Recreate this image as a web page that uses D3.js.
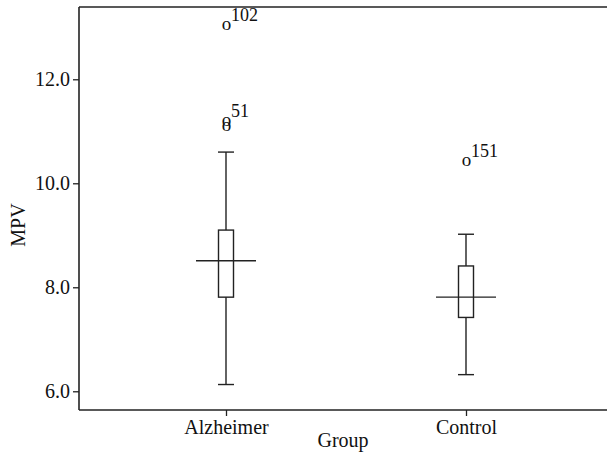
<!DOCTYPE html>
<html>
<head>
<meta charset="utf-8">
<script src="https://cdn.jsdelivr.net/npm/d3@7"></script>
<style>
  body { margin: 0; background: #fff; overflow: hidden; }
  svg { display: block; }
  text { font-family: "Liberation Serif", "Times New Roman", serif; fill: #111; }
</style>
</head>
<body>
<div id="chart"></div>
<script>
// values
var groups = ["Alzheimer", "Control"];
var whiskerLow = [6.13, 6.32];
var q1 = [7.81, 7.42];
var median = [8.51, 7.81];
var q3 = [9.10, 8.41];
var whiskerHigh = [10.60, 9.02];

var outlierGroup = ["Alzheimer", "Alzheimer", "Alzheimer", "Control"];
var outlierValue = [13.04, 11.19, 11.10, 10.42];
var outlierLabel = ["102", "51", "", "151"];

var yTicks = [6, 8, 10, 12];

var width = 607, height = 454;
var margin = {top: 7, left: 79, bottom: 44};
var stroke = "#222";

var svg = d3.select("#chart").append("svg")
  .attr("width", width)
  .attr("height", height);

var y = d3.scaleLinear()
  .domain([5.64, 13.39])
  .range([height - margin.bottom, margin.top]);

var x = d3.scalePoint()
  .domain(groups)
  .range([margin.left, 613])
  .padding(0.6125);

var boxes = groups.map(function(g, i) {
  return {group: g, lo: whiskerLow[i], q1: q1[i], med: median[i], q3: q3[i], hi: whiskerHigh[i]};
});

// frame: left, top and bottom lines only (right side runs off the picture)
var plotBottom = y.range()[0];
var frame = svg.append("g").attr("stroke", stroke).attr("stroke-width", 1.6);
frame.append("line").attr("x1", margin.left).attr("x2", width).attr("y1", margin.top).attr("y2", margin.top);
frame.append("line").attr("x1", margin.left).attr("x2", width).attr("y1", plotBottom).attr("y2", plotBottom);
frame.append("line").attr("x1", margin.left).attr("x2", margin.left).attr("y1", margin.top).attr("y2", plotBottom);

// y axis
var yAxis = svg.append("g")
  .attr("transform", "translate(" + margin.left + ",0)")
  .call(d3.axisLeft(y).tickValues(yTicks).tickFormat(d3.format(".1f")).tickSize(6).tickPadding(3));
yAxis.select(".domain").remove();
yAxis.selectAll(".tick line").attr("stroke", stroke).attr("stroke-width", 1.3);
yAxis.selectAll(".tick text")
  .style("font-family", "Liberation Serif, serif")
  .style("font-size", "20px")
  .attr("fill", "#111");

// x axis
var xAxis = svg.append("g")
  .attr("transform", "translate(0," + plotBottom + ")")
  .call(d3.axisBottom(x).tickSize(6).tickPadding(4));
xAxis.select(".domain").remove();
xAxis.selectAll(".tick line").attr("stroke", stroke).attr("stroke-width", 1.3);
xAxis.selectAll(".tick text")
  .style("font-family", "Liberation Serif, serif")
  .style("font-size", "20px")
  .attr("fill", "#111");

// axis titles
svg.append("text")
  .attr("x", (margin.left + width) / 2)
  .attr("y", 447)
  .attr("text-anchor", "middle")
  .style("font-size", "20px")
  .text("Group");

svg.append("text")
  .attr("transform", "translate(25,225) rotate(-90)")
  .attr("text-anchor", "middle")
  .style("font-size", "20px")
  .text("MPV");

// boxes
var boxW = 15, capW = 16, medW = 60;
var g = svg.append("g").attr("stroke", stroke).attr("stroke-width", 1.4).attr("fill", "none");

g.selectAll(".whisker").data(boxes).enter().append("line")
  .attr("x1", function(d) { return x(d.group); })
  .attr("x2", function(d) { return x(d.group); })
  .attr("y1", function(d) { return y(d.lo); })
  .attr("y2", function(d) { return y(d.hi); });

g.selectAll(".cap-lo").data(boxes).enter().append("line")
  .attr("x1", function(d) { return x(d.group) - capW / 2; })
  .attr("x2", function(d) { return x(d.group) + capW / 2; })
  .attr("y1", function(d) { return y(d.lo); })
  .attr("y2", function(d) { return y(d.lo); });

g.selectAll(".cap-hi").data(boxes).enter().append("line")
  .attr("x1", function(d) { return x(d.group) - capW / 2; })
  .attr("x2", function(d) { return x(d.group) + capW / 2; })
  .attr("y1", function(d) { return y(d.hi); })
  .attr("y2", function(d) { return y(d.hi); });

g.selectAll(".box").data(boxes).enter().append("rect")
  .attr("x", function(d) { return x(d.group) - boxW / 2; })
  .attr("y", function(d) { return y(d.q3); })
  .attr("width", boxW)
  .attr("height", function(d) { return y(d.q1) - y(d.q3); })
  .attr("fill", "#fff");

g.selectAll(".median").data(boxes).enter().append("line")
  .attr("x1", function(d) { return x(d.group) - medW / 2; })
  .attr("x2", function(d) { return x(d.group) + medW / 2; })
  .attr("y1", function(d) { return y(d.med); })
  .attr("y2", function(d) { return y(d.med); });

// outliers drawn as "o" glyphs with case numbers (two Alzheimer points overlap, as in SPSS)
var outliers = outlierValue.map(function(v, i) {
  return {group: outlierGroup[i], value: v, label: outlierLabel[i]};
});

svg.selectAll(".outlier").data(outliers).enter().append("text")
  .attr("x", function(d) { return x(d.group) + 0.5; })
  .attr("y", function(d) { return y(d.value); })
  .attr("dy", "0.25em")
  .attr("text-anchor", "middle")
  .style("font-size", "19px")
  .text("o");

svg.selectAll(".outlier-label").data(outliers.filter(function(d) { return d.label; })).enter().append("text")
  .attr("x", function(d) { return x(d.group) + 5; })
  .attr("y", function(d) { return y(d.value) - 4; })
  .style("font-size", "18px")
  .text(function(d) { return d.label; });
</script>
</body>
</html>
